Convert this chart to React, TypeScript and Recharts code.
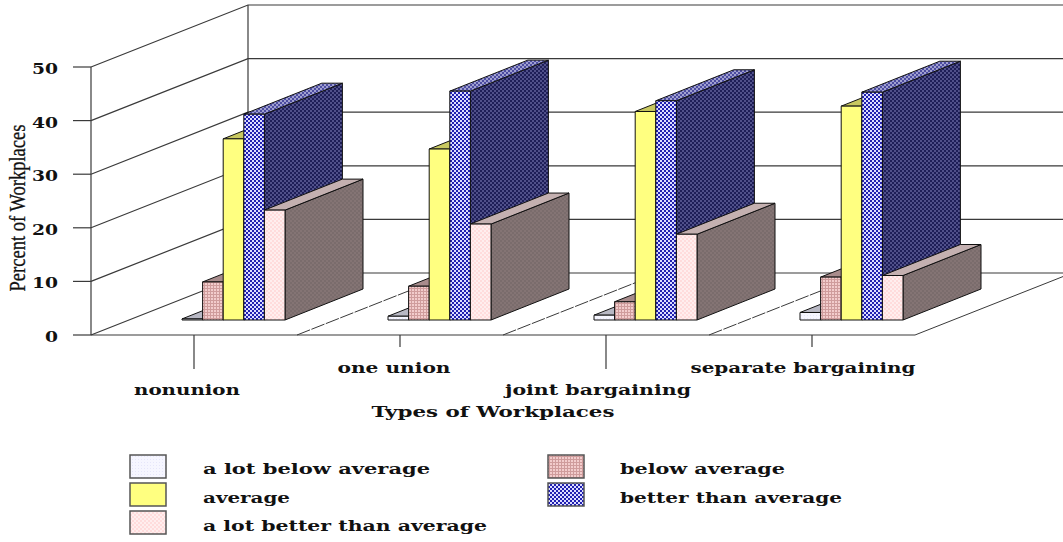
import { Bar, BarChart, CartesianGrid, Legend, XAxis, YAxis } from 'recharts';

const categories = ['nonunion', 'one union', 'joint bargaining', 'separate bargaining'];
const aLotBelow = [0.2, 0.7, 0.9, 1.4];
const below = [7.1, 6.3, 3.4, 8.0];
const average = [33.8, 31.9, 38.9, 39.9];
const better = [38.4, 42.7, 40.9, 42.5];
const aLotBetter = [20.5, 17.9, 16.0, 8.3];
const yTicks = [0, 10, 20, 30, 40, 50];
const seriesNames = [
    'a lot below average',
    'below average',
    'average',
    'better than average',
    'a lot better than average',
];

const data = categories.map((name, i) => ({
    name,
    aLotBelow: aLotBelow[i],
    below: below[i],
    average: average[i],
    better: better[i],
    aLotBetter: aLotBetter[i],
}));

const WIDTH = 1063;
const HEIGHT = 542;
const PLOT = { left: 91, right: 915, top: 67, bottom: 335 };
// floor depth, and how far the bars stand from the front edge / how deep they are
const DEPTH_X = 157;
const DEPTH_Y = 62;
const BAR_SHIFT_X = 39;
const BAR_SHIFT_Y = 15;
const BAR_DEPTH_X = 78;
const BAR_DEPTH_Y = 31;

const LINE = '#3a3a3a';
const TEXT = '#111';
const WIDE_FONT = '"DejaVu Serif", serif';

const sideFaces = ['#a8a8b4', '#a08484', '#b8b860', 'url(#sideBetter)', 'url(#sideLotBetter)'];
const topFaces = ['#b8b8c4', '#a88c8c', '#c8c860', 'url(#topBetter)', '#c4b0b0'];

const categoryLabels = [
    { dx: -7, y: 395, width: 106, tick: 34 },
    { dx: -6, y: 373, width: 113, tick: 12 },
    { dx: -8, y: 395, width: 186, tick: 34 },
    { dx: -9, y: 373, width: 225, tick: 12 },
];
const legendLayout = [
    { box: [130, 455], text: [203, 474], width: 227 },
    { box: [548, 455], text: [620, 474], width: 165 },
    { box: [130, 483], text: [203, 503], width: 87 },
    { box: [548, 483], text: [620, 503], width: 222 },
    { box: [130, 511], text: [203, 531], width: 284 },
];

function makeBarShape(index: number) {
    return function BarShape(props: any) {
        const { x, y, width, height, fill } = props;
        const left = x + BAR_SHIFT_X;
        const right = left + width;
        const top = y - BAR_SHIFT_Y;
        const bottom = top + height;
        const dx = BAR_DEPTH_X;
        const dy = BAR_DEPTH_Y;
        return (
            <g stroke="#111" strokeWidth={1} strokeLinejoin="round">
                <polygon
                    points={`${right},${top} ${right + dx},${top - dy} ${right + dx},${bottom - dy} ${right},${bottom}`}
                    fill={sideFaces[index]}
                />
                <polygon
                    points={`${left},${top} ${left + dx},${top - dy} ${right + dx},${top - dy} ${right},${top}`}
                    fill={topFaces[index]}
                />
                <rect x={left} y={top} width={width} height={height} fill={fill} />
            </g>
        );
    };
}

// draws each gridline round the corner: along the left wall, then along the back wall
function GridLine(props: any) {
    const { x1, x2, y1 } = props;
    const backX = x1 + DEPTH_X;
    const backY = y1 - DEPTH_Y;
    const isFloor = Math.abs(y1 - PLOT.bottom) < 0.5;
    const step = (x2 - x1) / categories.length;
    return (
        <g stroke={LINE} strokeWidth={1.2} fill="none">
            <path d={`M${x1},${y1} L${backX},${backY} L${x2 + DEPTH_X},${backY}`} />
            {isFloor && (
                <>
                    <line x1={backX} y1={backY} x2={backX} y2={PLOT.top - DEPTH_Y} />
                    {categories.map((c, i) => (
                        <line
                            key={c}
                            x1={x1 + step * (i + 1)}
                            y1={y1}
                            x2={x1 + step * (i + 1) + DEPTH_X}
                            y2={backY}
                            strokeWidth={1}
                            strokeDasharray={i < 3 ? '14 1.5' : undefined}
                        />
                    ))}
                </>
            )}
        </g>
    );
}

function CategoryTick(props: any) {
    const { x, payload, index } = props;
    const label = categoryLabels[index];
    return (
        <g>
            <line x1={x} y1={PLOT.bottom} x2={x} y2={PLOT.bottom + label.tick} stroke={LINE} strokeWidth={1.2} />
            <text
                x={x + label.dx}
                y={label.y}
                textAnchor="middle"
                fontFamily={WIDE_FONT}
                fontWeight="bold"
                fontSize={14}
                fill={TEXT}
                textLength={label.width}
                lengthAdjust="spacingAndGlyphs"
            >
                {payload.value}
            </text>
        </g>
    );
}

function ValueTick(props: any) {
    const { x, y, payload } = props;
    const text = String(payload.value);
    return (
        <text
            x={x}
            y={y + 7}
            textAnchor="end"
            fontFamily={WIDE_FONT}
            fontWeight="bold"
            fontSize={15}
            fill={TEXT}
            textLength={text.length * 13}
            lengthAdjust="spacingAndGlyphs"
        >
            {text}
        </text>
    );
}

function LegendBlock({ payload }: any) {
    return (
        <svg width={WIDTH} height={HEIGHT} style={{ display: 'block' }}>
            {(payload || []).map((entry: any) => {
                const spot = legendLayout[seriesNames.indexOf(entry.value)];
                return (
                    <g key={entry.value}>
                        <rect
                            x={spot.box[0]}
                            y={spot.box[1]}
                            width={36}
                            height={23}
                            fill={entry.color}
                            stroke="#555"
                            strokeWidth={1.5}
                        />
                        <text
                            x={spot.text[0]}
                            y={spot.text[1]}
                            fontFamily={WIDE_FONT}
                            fontWeight="bold"
                            fontSize={14}
                            fill={TEXT}
                            textLength={spot.width}
                            lengthAdjust="spacingAndGlyphs"
                        >
                            {entry.value}
                        </text>
                    </g>
                );
            })}
        </svg>
    );
}

export default function App() {
    return (
        <div style={{ position: 'absolute', left: 0, top: 0, width: WIDTH, height: HEIGHT, background: '#fff' }}>
            <BarChart
                width={WIDTH}
                height={HEIGHT}
                data={data}
                barSize={20.6}
                barGap={0}
                margin={{ left: PLOT.left - 60, right: WIDTH - PLOT.right, top: PLOT.top, bottom: HEIGHT - PLOT.bottom - 30 }}
            >
                <defs>
                    <pattern id="fillLotBelow" width="3" height="3" patternUnits="userSpaceOnUse">
                        <rect width="3" height="3" fill="#f6f6ff" />
                        <rect width="1" height="1" fill="#e6e6fa" />
                    </pattern>
                    <pattern id="fillBelow" width="3" height="3" patternUnits="userSpaceOnUse">
                        <rect width="3" height="3" fill="#f2cccc" />
                        <rect width="3" height="1" fill="#cf9c9c" />
                        <rect width="1" height="3" fill="#cf9c9c" />
                    </pattern>
                    <pattern id="fillBetter" width="4" height="4" patternUnits="userSpaceOnUse">
                        <rect width="4" height="4" fill="#2020b0" />
                        <rect width="2" height="2" fill="#dcdcff" />
                        <rect x="2" y="2" width="2" height="2" fill="#dcdcff" />
                    </pattern>
                    <pattern id="fillLotBetter" width="4" height="4" patternUnits="userSpaceOnUse">
                        <rect width="4" height="4" fill="#ffeeee" />
                        <rect width="2" height="2" fill="#ffdcdc" />
                        <rect x="2" y="2" width="2" height="2" fill="#ffdcdc" />
                    </pattern>
                    <pattern id="sideBetter" width="4" height="4" patternUnits="userSpaceOnUse">
                        <rect width="4" height="4" fill="#1e1e58" />
                        <rect width="2" height="2" fill="#50508a" />
                        <rect x="2" y="2" width="2" height="2" fill="#50508a" />
                    </pattern>
                    <pattern id="sideLotBetter" width="4" height="4" patternUnits="userSpaceOnUse">
                        <rect width="4" height="4" fill="#847474" />
                        <rect width="2" height="2" fill="#7a6c6c" />
                        <rect x="2" y="2" width="2" height="2" fill="#7a6c6c" />
                    </pattern>
                    <pattern id="topBetter" width="4" height="4" patternUnits="userSpaceOnUse">
                        <rect width="4" height="4" fill="#4c4ca0" />
                        <rect width="2" height="2" fill="#a0a0d0" />
                        <rect x="2" y="2" width="2" height="2" fill="#a0a0d0" />
                    </pattern>
                </defs>
                <CartesianGrid vertical={false} horizontal={GridLine} />
                <XAxis
                    dataKey="name"
                    height={30}
                    interval={0}
                    axisLine={{ stroke: LINE, strokeWidth: 1.2 }}
                    tickLine={false}
                    tick={CategoryTick}
                />
                <YAxis
                    width={60}
                    domain={[0, 50]}
                    ticks={yTicks}
                    tickSize={18}
                    tickMargin={15}
                    axisLine={{ stroke: LINE, strokeWidth: 1.2 }}
                    tickLine={{ stroke: LINE, strokeWidth: 1.2 }}
                    tick={ValueTick}
                />
                <Legend
                    layout="vertical"
                    align="center"
                    verticalAlign="middle"
                    itemSorter={null}
                    content={LegendBlock}
                    wrapperStyle={{ left: 0, top: 0, width: WIDTH, height: HEIGHT, pointerEvents: 'none' }}
                />
                <Bar dataKey="aLotBelow" name={seriesNames[0]} fill="url(#fillLotBelow)" shape={makeBarShape(0)} isAnimationActive={false} />
                <Bar dataKey="below" name={seriesNames[1]} fill="url(#fillBelow)" shape={makeBarShape(1)} isAnimationActive={false} />
                <Bar dataKey="average" name={seriesNames[2]} fill="#ffff80" shape={makeBarShape(2)} isAnimationActive={false} />
                <Bar dataKey="better" name={seriesNames[3]} fill="url(#fillBetter)" shape={makeBarShape(3)} isAnimationActive={false} />
                <Bar dataKey="aLotBetter" name={seriesNames[4]} fill="url(#fillLotBetter)" shape={makeBarShape(4)} isAnimationActive={false} />
                <text
                    x={0}
                    y={0}
                    transform="translate(25,208) rotate(-90)"
                    textAnchor="middle"
                    fontFamily='"Liberation Serif", serif'
                    fontSize={23}
                    stroke={TEXT}
                    strokeWidth={0.3}
                    fill={TEXT}
                    textLength={167}
                    lengthAdjust="spacingAndGlyphs"
                >
                    Percent of Workplaces
                </text>
                <text
                    x={493}
                    y={417}
                    textAnchor="middle"
                    fontFamily={WIDE_FONT}
                    fontWeight="bold"
                    fontSize={14}
                    fill={TEXT}
                    textLength={243}
                    lengthAdjust="spacingAndGlyphs"
                >
                    Types of Workplaces
                </text>
            </BarChart>
        </div>
    );
}
